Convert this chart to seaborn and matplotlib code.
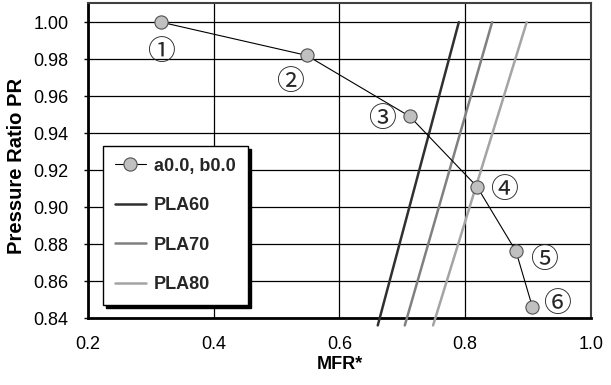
import matplotlib
matplotlib.use("Agg")
import matplotlib.pyplot as plt
import seaborn as sns
import pandas as pd

# ---- data ----
mfr = [0.316, 0.548, 0.712, 0.819, 0.881, 0.907]
pr = [1.000, 0.982, 0.949, 0.911, 0.876, 0.846]
point_labels = ["①", "②", "③", "④", "⑤", "⑥"]
series_name = "a0.0, b0.0"

pla_names = ["PLA60", "PLA70", "PLA80"]
pla_x_low = [0.661, 0.704, 0.749]
pla_x_high = [0.790, 0.843, 0.898]
pla_y_low = 0.836
pla_y_high = 1.000

x_ticks = [0.2, 0.4, 0.6, 0.8, 1.0]
y_ticks = [0.84, 0.86, 0.88, 0.90, 0.92, 0.94, 0.96, 0.98, 1.00]

sns.set_theme(style="white")
plt.rcParams['font.family'] = ['Liberation Sans', 'DejaVu Sans']

fig = plt.figure(figsize=(6.11, 3.85), dpi=100)
ax = fig.add_axes([0.144, 0.174, 0.823, 0.818])

df = pd.DataFrame({"MFR": mfr, "PR": pr})
sns.lineplot(data=df, x="MFR", y="PR", ax=ax, color="black", lw=0.8,
             marker="o", markersize=9.5, markerfacecolor="#c0c0c0",
             markeredgecolor="#505050", markeredgewidth=0.8,
             label=series_name, sort=False, zorder=5)

pla_colors = ["#303030", "#808080", "#a4a4a4"]
for name, xl, xh, c in zip(pla_names, pla_x_low, pla_x_high, pla_colors):
    pdf = pd.DataFrame({"x": [xl, xh], "y": [pla_y_low, pla_y_high]})
    sns.lineplot(data=pdf, x="x", y="y", ax=ax, color=c, lw=1.8,
                 label=name, sort=False, clip_on=False, zorder=4)

offsets = [(0, -21.6), (-12.2, -19.7), (-20.4, -2.4), (19.2, -2.7), (19.7, -6.5), (18, 1.9)]
for lab, x, y, off in zip(point_labels, mfr, pr, offsets):
    ax.annotate(lab, (x, y), xytext=off, textcoords="offset points",
                ha="center", va="center", fontsize=20,
                family=['DejaVu Serif', 'Noto Sans CJK JP'], zorder=6)

ax.set_xlim(0.2, 1.0)
ax.set_ylim(0.84, 1.0103)
ax.set_xticks(x_ticks)
ax.set_xticklabels([f"{v:.1f}" for v in x_ticks])
ax.set_yticks(y_ticks)
ax.set_yticklabels([f"{v:.2f}" for v in y_ticks])
ax.tick_params(axis="both", labelsize=13, colors="black", length=0)
ax.tick_params(axis="y", length=3, width=1, direction="out", left=True, pad=11)
ax.tick_params(axis="x", pad=13)

ax.grid(True, axis="both", color="black", lw=0.9)
ax.set_axisbelow(True)

for s in ["left", "bottom"]:
    ax.spines[s].set_color("black")
    ax.spines[s].set_linewidth(2.0)
for s in ["top", "right"]:
    ax.spines[s].set_color("#404040")
    ax.spines[s].set_linewidth(1.5)

ax.set_xlabel("MFR*", fontsize=13, fontweight="bold", color="black", labelpad=2)
ax.set_ylabel("Pressure Ratio PR", fontsize=14.5, fontweight="bold", color="black")
ax.yaxis.set_label_coords(-0.123, 0.483)

leg = ax.legend(loc="lower left", bbox_to_anchor=(0.030, 0.041, 0.288, 0.515),
                mode="expand", borderaxespad=0, fancybox=False,
                shadow={'color': 'black', 'alpha': 1},
                framealpha=1, edgecolor="black", labelspacing=1.25,
                handlelength=1.7, handletextpad=0.45, borderpad=0.65,
                prop={'weight': 'bold', 'size': 13})
leg.get_frame().set_linewidth(1.0)
leg.set_zorder(10)

fig.savefig("out.png", dpi=100)
